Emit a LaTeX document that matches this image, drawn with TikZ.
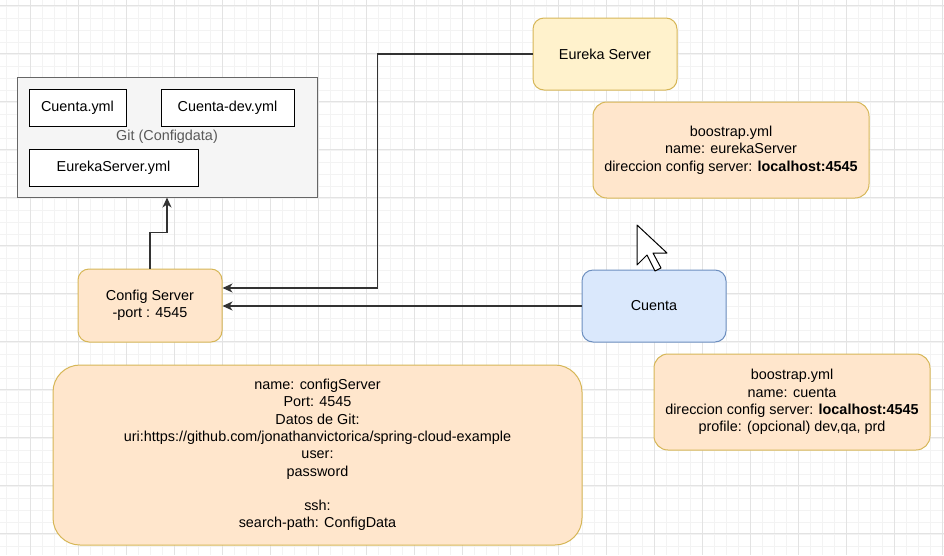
\documentclass[tikz,border=0pt]{standalone}
\usepackage{fontspec}
\setmainfont{Liberation Sans}
\usetikzlibrary{arrows.meta}
\definecolor{gridmaj}{HTML}{E3E3E3}
\definecolor{gridmin}{HTML}{F3F3F3}
\definecolor{gitfill}{HTML}{F5F5F5}
\definecolor{gitline}{HTML}{666666}
\definecolor{orfill}{HTML}{FFE6CC}
\definecolor{orline}{HTML}{D6B656}
\definecolor{yefill}{HTML}{FFF2CC}
\definecolor{blfill}{HTML}{DAE8FC}
\definecolor{blline}{HTML}{6C8EBF}
\tikzset{
  box/.style={draw, inner sep=0pt, align=center, font=\fontsize{14.4}{17.3}\selectfont},
  ymlbox/.style={box, fill=white, draw=black},
  orbox/.style={box, fill=orfill, draw=orline},
  arr/.style={-{Stealth[length=10pt,width=9pt,inset=3pt]}, line width=1.3pt, draw=black!80},
}
\begin{document}
\begin{tikzpicture}[x=1pt, y=-1pt, line width=1pt]
  \useasboundingbox (0,0) rectangle (944,555);
  \fill[white] (0,0) rectangle (944,555);
  \foreach \t in {6,18,...,942} {
    \draw[gridmin, line width=0.8pt] (\t,0) -- (\t,555);
    \draw[gridmin, line width=0.8pt] (0,\t) -- (944,\t);
  }
  \foreach \t in {30,78,...,942} \draw[gridmaj] (\t,0) -- (\t,555);
  \foreach \t in {5,53,...,555} \draw[gridmaj] (0,\t) -- (944,\t);

  \node[box, fill=gitfill, draw=gitline, text=black!65, minimum width=300pt, minimum height=120pt] (G) at (167,137) {Git (Configdata)};
  \node[ymlbox, minimum width=97pt, minimum height=37pt] (Y1) at (77.5,107.5) {Cuenta.yml};
  \node[ymlbox, minimum width=133pt, minimum height=37pt] (Y2) at (227.5,107.5) {Cuenta-dev.yml};
  \node[ymlbox, minimum width=169pt, minimum height=37pt] (Y3) at (113.5,167.5) {EurekaServer.yml};

  \node[orbox, rounded corners=11pt, minimum width=144pt, minimum height=73pt] (C) at (150,305.5) {Config Server\\-port : 4545};
  \node[box, rounded corners=11pt, fill=yefill, draw=orline, minimum width=144pt, minimum height=72pt] (E) at (605,54) {Eureka Server};
  \node[box, rounded corners=11pt, fill=blfill, draw=blline, minimum width=144pt, minimum height=72pt] (U) at (654,306) {Cuenta};

  \node[orbox, rounded corners=14pt, minimum width=276pt, minimum height=96pt] (P) at (731,150)
    {boostrap.yml\\name: eurekaServer\\direccion config server: \textbf{localhost:4545}};
  \node[orbox, rounded corners=14pt, minimum width=276pt, minimum height=96pt] (Q) at (792,402)
    {boostrap.yml\\name: cuenta\\direccion config server: \textbf{localhost:4545}\\profile: (opcional) dev,qa, prd};
  \node[orbox, rounded corners=27pt, minimum width=529pt, minimum height=180pt] (R) at (317.5,455)
    {name: configServer\\Port: 4545\\Datos de Git:\\uri:https://github.com/jonathanvictorica/spring-cloud-example\\user:\\password\\\mbox{}\\ssh:\\search-path: ConfigData};

  \draw[arr] (C.north) -- ++(0,-36) -| (G.south);
  \draw[arr] (E.west) -- ++(-155,0) |- ([yshift=17.5pt]C.east);
  \draw[arr] (U.west) -- (U.west -| C.east);

  \draw[fill=white, line width=1pt, line join=round]
    (637,225) -- (637,265) -- (647,255) -- (655,271) -- (661,268) -- (653,253) -- (667,253) -- cycle;
\end{tikzpicture}
\end{document}
